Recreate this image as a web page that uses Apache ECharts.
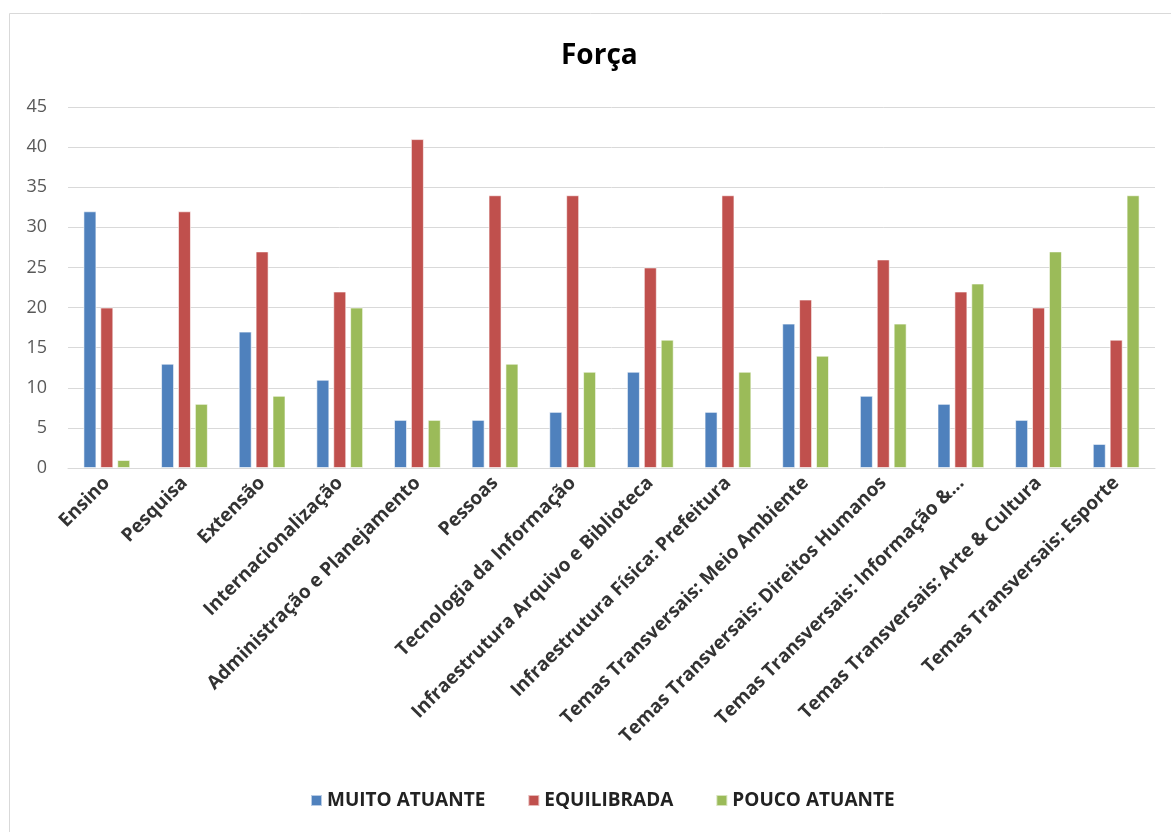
<!DOCTYPE html>
<html><head><meta charset="utf-8">
<script src="https://cdn.jsdelivr.net/npm/echarts@6/dist/echarts.min.js"></script>
<style>html,body{margin:0;padding:0;background:#fff}#c{width:1171px;height:832px}</style>
</head><body><div id="c"></div>
<script>
const categories = ["Ensino","Pesquisa","Extensão","Internacionalização","Administração e Planejamento","Pessoas","Tecnologia da Informação","Infraestrutura Arquivo e Biblioteca","Infraestrutura Física: Prefeitura","Temas Transversais: Meio Ambiente","Temas Transversais: Direitos Humanos","Temas Transversais: Informação &...","Temas Transversais: Arte & Cultura","Temas Transversais: Esporte"];
const muitoAtuante = [32,13,17,11,6,6,7,12,7,18,9,8,6,3];
const equilibrada = [20,32,27,22,41,34,34,25,34,21,26,22,20,16];
const poucoAtuante = [1,8,9,20,6,13,12,16,12,14,18,23,27,34];
const seriesNames = ["MUITO ATUANTE","EQUILIBRADA","POUCO ATUANTE"];
const colors = ["#4F81BD","#C0504D","#9BBB59"];
const chart = echarts.init(document.getElementById('c'));
const font = "'Open Sans', sans-serif";
function mk(name, data, color){
  return {name, type:'bar', data, barWidth:13, barGap:'30%',
    itemStyle:{color, borderColor:'rgba(255,255,255,0.6)', borderWidth:1}};
}
chart.setOption({
  animation:false,
  textStyle:{fontFamily:font},
  graphic:[{type:'rect', shape:{x:9.5,y:13.5,width:1170,height:830}, style:{fill:'none',stroke:'#d9d9d9',lineWidth:1}, silent:true}],
  title:{text:'Força', left:556, top:37, textStyle:{fontFamily:font, fontSize:28, fontWeight:'bold', color:'#000'}},
  legend:{bottom:17, left:305, itemWidth:11, itemHeight:11, itemGap:42, icon:'rect',
    textStyle:{fontFamily:font, fontSize:19, fontWeight:'bold', color:'#222'}, data:seriesNames},
  grid:{left:68, right:16, top:107, bottom:364, containLabel:false},
  xAxis:{type:'category', data:categories,
    axisLine:{lineStyle:{color:'#d9d9d9'}}, axisTick:{show:false},
    axisLabel:{rotate:45, interval:0, fontSize:19, fontWeight:'bold', color:'#333', margin:12, fontFamily:font}},
  yAxis:{type:'value', min:0, max:45, interval:5,
    axisLine:{show:false}, axisTick:{show:false},
    splitLine:{lineStyle:{color:'#d9d9d9', width:1}},
    axisLabel:{fontSize:18, color:'#595959', margin:21, fontFamily:font}},
  series:[mk(seriesNames[0], muitoAtuante, colors[0]), mk(seriesNames[1], equilibrada, colors[1]), mk(seriesNames[2], poucoAtuante, colors[2])]
});
</script></body></html>
